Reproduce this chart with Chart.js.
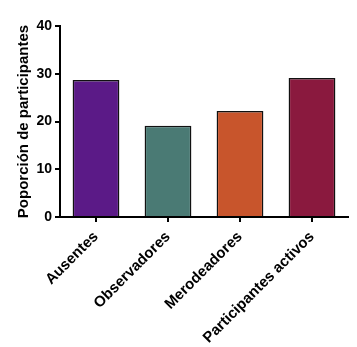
<!DOCTYPE html>
<html>
<head>
<meta charset="utf-8">
<script src="https://cdn.jsdelivr.net/npm/chart.js@4.4.1/dist/chart.umd.min.js"></script>
<style>
    html, body { margin: 0; padding: 0; background: #fff; }
    #wrap { width: 357px; height: 347px; }
</style>
</head>
<body>
<div id="wrap"><canvas id="chart" width="357" height="347"></canvas></div>
<script>
const categories = ['Ausentes', 'Observadores', 'Merodeadores', 'Participantes activos'];
const values = [28.7, 19.1, 22.2, 29.1];
const barColors = ['#5b1a87', '#4a7a74', '#c8552c', '#8a193e'];
const yTicks = [0, 10, 20, 30, 40];

const font = 'Arial, "Liberation Sans", sans-serif';

new Chart(document.getElementById('chart'), {
    type: 'bar',
    data: {
        labels: categories,
        datasets: [{
            data: values,
            backgroundColor: barColors,
            borderColor: '#111',
            borderWidth: 1.5,
            barPercentage: 0.65,
            categoryPercentage: 1
        }]
    },
    options: {
        responsive: false,
        animation: false,
        layout: {
            padding: { top: 26, right: 9, left: 0, bottom: 0 }
        },
        plugins: {
            legend: { display: false },
            tooltip: { enabled: false }
        },
        scales: {
            x: {
                grid: {
                    offset: false,
                    drawOnChartArea: false,
                    drawTicks: true,
                    tickLength: 5,
                    color: '#000',
                    lineWidth: 2
                },
                border: { display: true, color: '#000', width: 2 },
                ticks: {
                    color: '#000',
                    maxRotation: 45,
                    minRotation: 45,
                    padding: 6,
                    font: { family: font, size: 15, weight: 'bold' }
                },
                afterFit: (scale) => { scale.height = 130; }
            },
            y: {
                min: 0,
                max: 40,
                afterBuildTicks: (scale) => {
                    scale.ticks = yTicks.map(v => ({ value: v }));
                },
                grid: {
                    drawOnChartArea: false,
                    drawTicks: true,
                    tickLength: 5,
                    color: '#000',
                    lineWidth: 2
                },
                border: { display: true, color: '#000', width: 2 },
                ticks: {
                    color: '#000',
                    padding: 3,
                    font: { family: font, size: 14, weight: 'bold' }
                },
                title: {
                    display: true,
                    text: 'Poporción de participantes',
                    color: '#000',
                    padding: { top: 15, bottom: 4 },
                    font: { family: font, size: 15, weight: 'bold' }
                },
                afterFit: (scale) => { scale.width = 60; }
            }
        }
    }
});
</script>
</body>
</html>
